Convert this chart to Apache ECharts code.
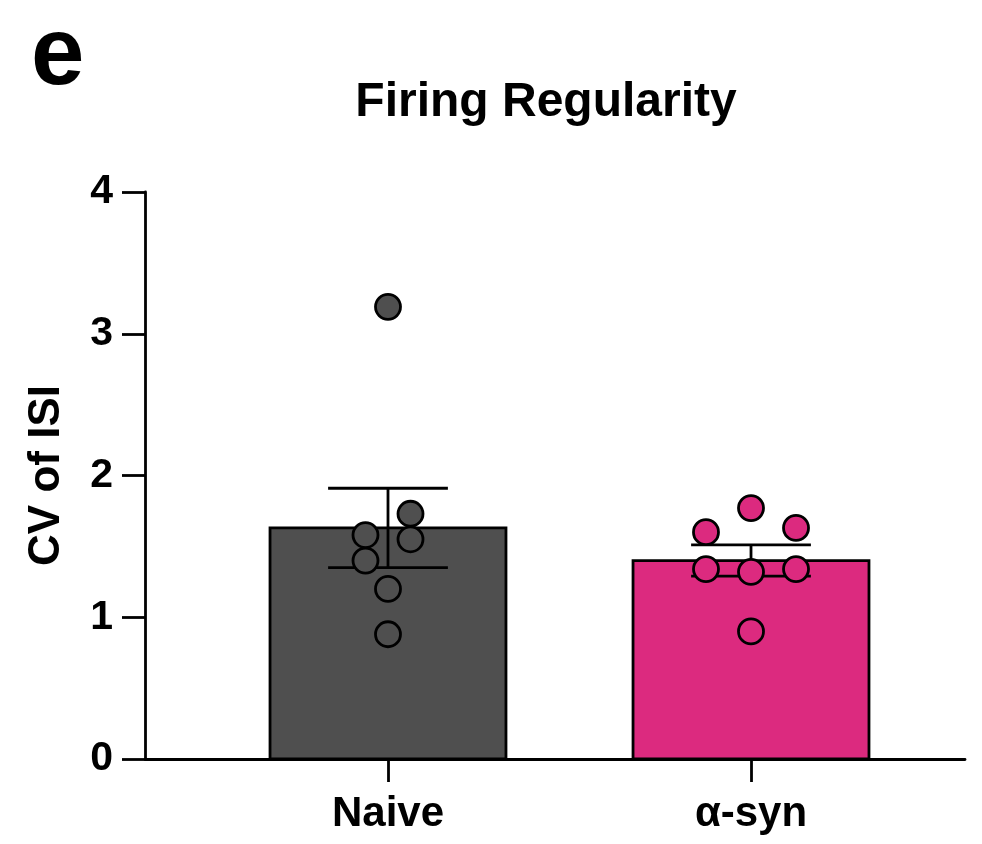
<!DOCTYPE html>
<html>
<head>
<meta charset="utf-8">
<title>Firing Regularity</title>
<script src="https://cdn.jsdelivr.net/npm/echarts@6/dist/echarts.min.js"></script>
<style>
  html, body { margin: 0; padding: 0; background: #ffffff; }
  #chart { width: 982px; height: 844px; }
</style>
</head>
<body>
<div id="chart"></div>
<script>
// Groups and per-cell CV of ISI values
const categories = ['Naive', 'α-syn'];
const naiveValues = [3.19, 1.73, 1.58, 1.55, 1.40, 1.20, 0.88];
const asynValues = [1.77, 1.60, 1.63, 1.34, 1.32, 1.34, 0.90];
// Horizontal spread of the dots inside each bar (in category units)
const naiveJitter = [0, 0.062, -0.062, 0.062, -0.062, 0, 0];
const asynJitter = [0, -0.124, 0.124, -0.124, 0, 0.124, 0];
// Bar heights (mean) and error bars (SEM)
const means = [1.63, 1.40];
const sems = [0.28, 0.11];
const yTicks = [0, 1, 2, 3, 4];

const barColors = ['#4f4f4f', '#dc2a7f'];
const FONT = '"Liberation Sans", Arial, Helvetica, sans-serif';
const LW = 2.8;
const BAR_HALF = 0.325;
const CAP_HALF = 0.165;

const chart = echarts.init(document.getElementById('chart'), null, { renderer: 'canvas' });

const barData = means.map((m, i) => [i, m]);
const errData = means.map((m, i) => [i, m - sems[i], m + sems[i]]);
const dots = (vals, jit, gi) => vals.map((v, k) => ({
  value: [gi + jit[k], v],
  itemStyle: { color: barColors[gi] }
}));

chart.setOption({
  animation: false,
  backgroundColor: '#ffffff',
  title: {
    text: 'Firing Regularity',
    left: 541,
    textAlign: 'center',
    top: 74,
    textStyle: { fontFamily: FONT, fontWeight: 'bold', fontSize: 48, color: '#000' }
  },
  graphic: [{
    type: 'text',
    left: 31,
    top: 10,
    style: { text: 'e', fontFamily: FONT, fontWeight: 'bold', fontSize: 96, fill: '#000' }
  }],
  grid: { left: 145, right: 17, top: 192, bottom: 85, containLabel: false },
  xAxis: {
    type: 'value',
    min: -0.6694,
    max: 1.5895,
    splitLine: { show: false },
    axisLine: { show: true, onZero: false, lineStyle: { color: '#000', width: LW } },
    axisTick: {
      show: true, inside: false, length: 23, customValues: [0, 1],
      lineStyle: { color: '#000', width: LW }
    },
    axisLabel: {
      show: true, customValues: [0, 1], margin: 34,
      formatter: v => categories[Math.round(v)],
      fontFamily: FONT, fontWeight: 'bold', fontSize: 42, color: '#000'
    }
  },
  yAxis: {
    type: 'value',
    min: yTicks[0],
    max: yTicks[yTicks.length - 1],
    interval: 1,
    name: 'CV of ISI',
    nameLocation: 'middle',
    nameRotate: 90,
    nameGap: 76,
    nameTextStyle: { fontFamily: FONT, fontWeight: 'bold', fontSize: 44, color: '#000' },
    splitLine: { show: false },
    axisLine: { show: true, onZero: false, lineStyle: { color: '#000', width: LW } },
    axisTick: { show: true, length: 23, lineStyle: { color: '#000', width: LW } },
    axisLabel: { margin: 32, fontFamily: FONT, fontWeight: 'bold', fontSize: 41, color: '#000' }
  },
  series: [
    {
      // bars: mean per group
      type: 'custom',
      z: 1,
      data: barData,
      encode: { x: 0, y: 1 },
      renderItem: (params, api) => {
        const i = api.value(0);
        const p0 = api.coord([i - BAR_HALF, api.value(1)]);
        const p1 = api.coord([i + BAR_HALF, 0]);
        return {
          type: 'rect',
          shape: { x: p0[0], y: p0[1], width: p1[0] - p0[0], height: p1[1] - p0[1] },
          style: { fill: barColors[i], stroke: '#000', lineWidth: LW }
        };
      }
    },
    {
      // SEM error bars with caps
      type: 'custom',
      z: 2,
      data: errData,
      encode: { x: 0, y: [1, 2] },
      renderItem: (params, api) => {
        const i = api.value(0);
        const lo = api.value(1), hi = api.value(2);
        const a = api.coord([i, lo]), b = api.coord([i, hi]);
        const l1 = api.coord([i - CAP_HALF, hi]), r1 = api.coord([i + CAP_HALF, hi]);
        const l2 = api.coord([i - CAP_HALF, lo]), r2 = api.coord([i + CAP_HALF, lo]);
        const st = { stroke: '#000', lineWidth: LW };
        return {
          type: 'group',
          children: [
            { type: 'line', shape: { x1: a[0], y1: a[1], x2: b[0], y2: b[1] }, style: st },
            { type: 'line', shape: { x1: l1[0], y1: l1[1], x2: r1[0], y2: r1[1] }, style: st },
            { type: 'line', shape: { x1: l2[0], y1: l2[1], x2: r2[0], y2: r2[1] }, style: st }
          ]
        };
      }
    },
    {
      // individual cells
      type: 'scatter',
      z: 3,
      symbol: 'circle',
      symbolSize: 25,
      itemStyle: { borderColor: '#000', borderWidth: LW, opacity: 1 },
      data: dots(naiveValues, naiveJitter, 0).concat(dots(asynValues, asynJitter, 1))
    }
  ]
});
</script>
</body>
</html>
